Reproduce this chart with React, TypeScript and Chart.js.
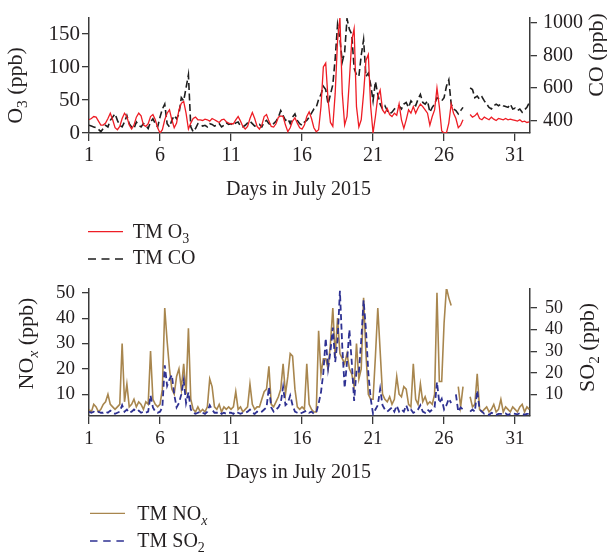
import React, { useEffect, useRef } from 'react';
import { Chart, registerables } from 'chart.js';
Chart.register(...registerables);

// ---------- data (4-hourly samples, 6 per day, starting at day 1 00:00) ----------
const FIRST_DAY = 1;
const SAMPLES_PER_DAY = 6;

const X_TICKS = [1, 6, 11, 16, 21, 26, 31];
const O3_TICKS = [0, 50, 100, 150];
const CO_TICKS = [400, 600, 800, 1000];
const NOX_TICKS = [10, 20, 30, 40, 50];
const SO2_TICKS = [10, 20, 30, 40, 50];

const O3: (number | null)[] = [
  20, 22, 25, 24, 18, 12, // 1
  12, 15, 22, 30, 20, 8, // 2
  5, 10, 22, 30, 25, 12, // 3
  6, 12, 24, 30, 26, 12, // 4
  10, 14, 25, 28, 20, 8, // 5
  0, 5, 20, 30, 35, 20, // 6
  8, 15, 35, 45, 48, 30, // 7
  6, 15, 22, 24, 20, 20, // 8
  19, 21, 20, 18, 22, 20, // 9
  18, 16, 20, 21, 17, 15, // 10
  14, 14, 20, 25, 18, 10, // 11
  6, 10, 22, 31, 22, 10, // 12
  6, 12, 25, 28, 18, 10, // 13
  9, 14, 24, 26, 25, 12, // 14
  2, 8, 18, 23, 15, 8, // 15
  6, 12, 25, 32, 22, 8, // 16
  2, 5, 40, 100, 106, 50, // 17
  16, 10, 60, 140, 175, 60, // 18
  12, 25, 80, 140, 158, 40, // 19
  9, 20, 60, 110, 119, 40, // 20
  0, 25, 55, 65, 35, 30, // 21
  37, 28, 25, 30, 27, 44, // 22
  20, 7, 20, 35, 30, 40, // 23
  30, 38, 44, 40, 35, 30, // 24
  12, 25, 35, 68, 40, 3, // 25
  0, 0, 15, 44, 30, 22, // 26
  8, 12, 20, null, null, 28, // 27
  24, 26, 30, 22, 20, 24, // 28
  22, 20, 24, 21, 19, 22, // 29
  21, 20, 22, 20, 21, 20, // 30
  19, 18, 20, 17, 18, 16, // 31
  17,
];

const CO: (number | null)[] = [
  370, 365, 360, 355, 345, 330, // 1
  350, 370, 360, 400, 420, 440, // 2
  400, 370, 360, 390, 430, 380, // 3
  360, 350, 390, 370, 360, 380, // 4
  370, 350, 390, 410, 380, 360, // 5
  420, 470, 500, 380, 360, 400, // 6
  430, 410, 440, 540, 520, 600, // 7
  680, 360, 330, 350, 380, 375, // 8
  365, 370, 360, 380, 375, 365, // 9
  370, 380, 360, 370, 385, 375, // 10
  380, 370, 385, 390, 365, 360, // 11
  370, 385, 395, 380, 365, 370, // 12
  375, 360, 390, 400, 380, 370, // 13
  380, 395, 420, 460, 430, 400, // 14
  410, 380, 420, 440, 400, 380, // 15
  370, 390, 400, 420, 445, 470, // 16
  480, 530, 560, 610, 590, 500, // 17
  560, 620, 780, 990, 900, 760, // 18
  820, 1025, 960, 930, 720, 680, // 19
  670, 800, 896, 670, 690, 620, // 20
  520, 640, 560, 500, 470, 490, // 21
  460, 440, 450, 470, 480, 490, // 22
  470, 500, 510, 480, 520, 500, // 23
  490, 530, 560, 510, 500, 520, // 24
  450, 480, 500, 540, 530, 520, // 25
  540, 610, 650, 500, 470, 460, // 26
  440, 460, 480, null, null, 600, // 27
  590, 540, 550, 530, 545, 520, // 28
  500, 480, 470, 490, 500, 490, // 29
  500, 490, 485, 480, 500, 470, // 30
  475, 460, 470, 450, 465, 480, // 31
  510,
];

const NOX: (number | null)[] = [
  4, 3, 6, 5, 3, 4, // 1
  6, 7, 10, 6, 5, 4, // 2
  5, 6, 30, 7, 14, 5, // 3
  6, 8, 5, 7, 6, 4, // 4
  7, 6, 27, 8, 6, 5, // 5
  6, 12, 44, 31, 20, 12, // 6
  10, 17, 20, 12, 22, 10, // 7
  36, 8, 4, 3, 5, 3, // 8
  4, 3, 5, 16, 13, 5, // 9
  4, 6, 3, 5, 4, 5, // 10
  4, 5, 11, 4, 5, 3, // 11
  4, 5, 14, 6, 4, 5, // 12
  5, 8, 11, 12, 21, 6, // 13
  5, 7, 9, 12, 22, 10, // 14
  17, 26, 25, 12, 5, 4, // 15
  5, 4, 22, 6, 4, 3, // 16
  3, 35, 18, 24, 24, 20, // 17
  30, 44, 25, 40, 26, 24, // 18
  22, 26, 20, 18, 13, 30, // 19
  16, 20, 48, 26, 10, 8, // 20
  8, 25, 44, 27, 10, 8, // 21
  7, 9, 6, 8, 17, 10, // 22
  9, 13, 12, 6, 5, 22, // 23
  8, 6, 14, 7, 9, 6, // 24
  7, 6, 10, 50, 15, 15, // 25
  38, 52, 48, 45, null, null, // 26
  13, 5, 13, null, null, 9, // 27
  5, 6, 18, 4, 3, 4, // 28
  5, 3, 4, 6, 3, 4, // 29
  8, 3, 5, 4, 3, 5, // 30
  4, 3, 5, 6, 3, 5, // 31
  4,
];

const SO2: (number | null)[] = [
  2, 1.5, 2, 1.5, 2, 1.5, // 1
  1.5, 2, 1.5, 2.5, 1.5, 1, // 2
  1.5, 2, 5, 2, 3, 1.5, // 3
  2, 3, 2, 2.5, 1.5, 2, // 4
  1.5, 2, 9.5, 4, 2, 1.5, // 5
  2, 4, 23.5, 14, 17, 19, // 6
  10, 4, 6, 10, 16.5, 6, // 7
  11, 3, 1.5, 1, 1.5, 2, // 8
  1.5, 1, 2, 5, 3, 1.5, // 9
  1.5, 2, 1, 1.5, 1, 1.5, // 10
  1.5, 1, 2, 1.5, 1, 1.5, // 11
  1.5, 2, 3, 1.5, 1, 2, // 12
  1.5, 2, 3, 4, 13.4, 4, // 13
  2, 3, 4, 6, 13.4, 5, // 14
  6, 9.5, 5, 2, 1.5, 1, // 15
  1.5, 2, 2.5, 1.5, 2, 1, // 16
  1.5, 5.7, 11, 20, 36, 22, // 17
  30, 41, 25, 35, 58, 32, // 18
  13, 25, 40, 25, 7, 21, // 19
  20, 35, 53.6, 40, 20, 8, // 20
  1, 3, 5, 12.6, 5, 3, // 21
  2, 3, 4, 2, 4.8, 2, // 22
  3, 2, 5, 2, 3, 1.5, // 23
  2, 3, 5, 2, 1.5, 3, // 24
  2, 3, 4, 15.7, 6, 8, // 25
  3, 5, 8, 6, null, 10, // 26
  2, 4, 3, null, null, 2, // 27
  3, 2, 11.8, 3, 2, 1, // 28
  1, 0.5, 1.5, 1, 0.5, 1, // 29
  1, 0.8, 1.2, 0.5, 1, 1.2, // 30
  1, 0.8, 1.3, 1, 0.6, 1, // 31
  1,
];

// ---------- styling ----------
const FONT = "'Liberation Serif', 'DejaVu Serif', serif";
const TEXT = '#231f20';
const AXIS = '#3a3a3a';
const RED = '#ee1d25';
const BLACK = '#1e1e1e';
const BROWN = '#a8864e';
const BLUE = '#2e3192';

type Part = { t: string; sub?: boolean; it?: boolean };

function fontFor(p: Part, size: number) {
  const s = p.sub ? size * 0.7 : size;
  return `${p.it ? 'italic ' : ''}${s}px ${FONT}`;
}

function drawRich(ctx: CanvasRenderingContext2D, parts: Part[], x: number, y: number, size: number, align: 'left' | 'center', rot = 0) {
  ctx.save();
  ctx.translate(x, y);
  if (rot) ctx.rotate(rot);
  ctx.fillStyle = TEXT;
  ctx.textBaseline = 'alphabetic';
  ctx.textAlign = 'left';
  let w = 0;
  for (const p of parts) {
    ctx.font = fontFor(p, size);
    w += ctx.measureText(p.t).width;
  }
  let cx = align === 'center' ? -w / 2 : 0;
  for (const p of parts) {
    ctx.font = fontFor(p, size);
    ctx.fillText(p.t, cx, p.sub ? size * 0.24 : 0);
    cx += ctx.measureText(p.t).width;
  }
  ctx.restore();
}

function legendLine(ctx: CanvasRenderingContext2D, x1: number, x2: number, y: number, color: string, dash: number[]) {
  ctx.save();
  ctx.strokeStyle = color;
  ctx.lineWidth = 1.3;
  ctx.setLineDash(dash);
  ctx.beginPath();
  ctx.moveTo(x1, y);
  ctx.lineTo(x2, y);
  ctx.stroke();
  ctx.restore();
}

const toPoints = (arr: (number | null)[]) =>
  arr.map((v, i) => ({ x: FIRST_DAY + i / SAMPLES_PER_DAY, y: v }));

function xScale(size: number, height: number, padding: number) {
  return {
    type: 'linear',
    min: 1,
    max: 32.05,
    afterBuildTicks: (s: any) => {
      s.ticks = X_TICKS.map((v) => ({ value: v }));
    },
    afterFit: (s: any) => {
      s.height = height;
    },
    grid: { drawOnChartArea: false, drawTicks: true, tickLength: 8, color: AXIS, lineWidth: 1.3 },
    border: { display: true, color: AXIS, width: 1.5 },
    ticks: {
      font: { family: FONT, size },
      color: TEXT,
      padding,
      maxRotation: 0,
      autoSkip: false,
      callback: (v: any) => String(v),
    },
  };
}

function yScale(position: 'left' | 'right', min: number, max: number, ticks: number[], width: number, size: number, padding: number) {
  return {
    type: 'linear',
    position,
    min,
    max,
    afterBuildTicks: (s: any) => {
      s.ticks = ticks.map((v) => ({ value: v }));
    },
    afterFit: (s: any) => {
      s.width = width;
    },
    grid: { drawOnChartArea: false, drawTicks: true, tickLength: 7, color: AXIS, lineWidth: 1.3 },
    border: { display: true, color: AXIS, width: 1.5 },
    ticks: {
      font: { family: FONT, size },
      color: TEXT,
      padding,
      autoSkip: false,
      callback: (v: any) => String(v),
    },
  };
}

export default function App() {
  const topRef = useRef<HTMLCanvasElement>(null);
  const botRef = useRef<HTMLCanvasElement>(null);

  useEffect(() => {
    const topDecor = {
      id: 'topDecor',
      afterDraw(chart: any) {
        const ctx = chart.ctx as CanvasRenderingContext2D;
        drawRich(ctx, [{ t: 'Days in July 2015' }], 298.5, 195, 20, 'center');
        drawRich(ctx, [{ t: 'O' }, { t: '3', sub: true }, { t: ' (ppb)' }], 22, 85.5, 22, 'center', -Math.PI / 2);
        drawRich(ctx, [{ t: 'CO (ppb)' }], 603, 55, 22, 'center', -Math.PI / 2);
        legendLine(ctx, 88, 123, 231.7, RED, []);
        drawRich(ctx, [{ t: 'TM O' }, { t: '3', sub: true }], 132.7, 238.3, 20, 'left');
        legendLine(ctx, 88, 123, 259, BLACK, [8, 5.5]);
        drawRich(ctx, [{ t: 'TM CO' }], 132.7, 264, 20, 'left');
      },
    };
    const botDecor = {
      id: 'botDecor',
      afterDraw(chart: any) {
        const ctx = chart.ctx as CanvasRenderingContext2D;
        drawRich(ctx, [{ t: 'Days in July 2015' }], 298.5, 208.3, 20, 'center');
        drawRich(ctx, [{ t: 'NO' }, { t: 'x', sub: true, it: true }, { t: ' (ppb)' }], 33, 73.5, 22, 'center', -Math.PI / 2);
        drawRich(ctx, [{ t: 'SO' }, { t: '2', sub: true }, { t: ' (ppb)' }], 594, 77.5, 22, 'center', -Math.PI / 2);
        legendLine(ctx, 90, 125, 243.3, BROWN, []);
        drawRich(ctx, [{ t: 'TM NO' }, { t: 'x', sub: true, it: true }], 137.3, 250, 20, 'left');
        legendLine(ctx, 90, 125, 271, BLUE, [7.5, 5.7]);
        drawRich(ctx, [{ t: 'TM SO' }, { t: '2', sub: true }], 137.3, 276.7, 20, 'left');
      },
    };

    const top = new Chart(topRef.current!, {
      type: 'line',
      data: {
        datasets: [
          { label: 'TM O3', data: toPoints(O3), yAxisID: 'y', borderColor: RED, borderWidth: 1.3, pointRadius: 0, tension: 0, spanGaps: false },
          { label: 'TM CO', data: toPoints(CO), yAxisID: 'y1', borderColor: BLACK, borderWidth: 1.6, borderDash: [7, 3.5], pointRadius: 0, tension: 0, spanGaps: false },
        ],
      } as any,
      options: {
        animation: false,
        responsive: false,
        maintainAspectRatio: false,
        layout: { padding: { top: 8, left: 0, right: 0, bottom: 107 } },
        plugins: { legend: { display: false }, tooltip: { enabled: false } },
        scales: {
          x: xScale(20, 30, 3),
          y: yScale('left', 0, 174.3, O3_TICKS, 89, 21, 2),
          y1: yScale('right', 322.4, 1030, CO_TICKS, 77, 20, 6),
        } as any,
      },
      plugins: [topDecor],
    });

    const bot = new Chart(botRef.current!, {
      type: 'line',
      data: {
        datasets: [
          { label: 'TM SO2', data: toPoints(SO2), yAxisID: 'y1', borderColor: BLUE, borderWidth: 1.8, borderDash: [6, 3.5], pointRadius: 0, tension: 0, spanGaps: false },
          { label: 'TM NOx', data: toPoints(NOX), yAxisID: 'y', borderColor: BROWN, borderWidth: 1.6, pointRadius: 0, tension: 0, spanGaps: false },
        ],
      } as any,
      options: {
        animation: false,
        responsive: false,
        maintainAspectRatio: false,
        layout: { padding: { top: 19, left: 0, right: 0, bottom: 108 } },
        plugins: { legend: { display: false }, tooltip: { enabled: false } },
        scales: {
          x: xScale(19, 30, 4),
          y: yScale('left', 1.4, 51.5, NOX_TICKS, 89, 19, 7),
          y1: yScale('right', 0, 58.85, SO2_TICKS, 77, 18, 8),
        } as any,
      },
      plugins: [botDecor],
    });

    return () => {
      top.destroy();
      bot.destroy();
    };
  }, []);

  return (
    <div style={{ position: 'absolute', left: 0, top: 0, width: 607, height: 554, background: '#fff' }}>
      <canvas ref={topRef} width={607} height={270} style={{ position: 'absolute', left: 0, top: 0, width: 607, height: 270 }} />
      <canvas ref={botRef} width={607} height={284} style={{ position: 'absolute', left: 0, top: 270, width: 607, height: 284 }} />
    </div>
  );
}
